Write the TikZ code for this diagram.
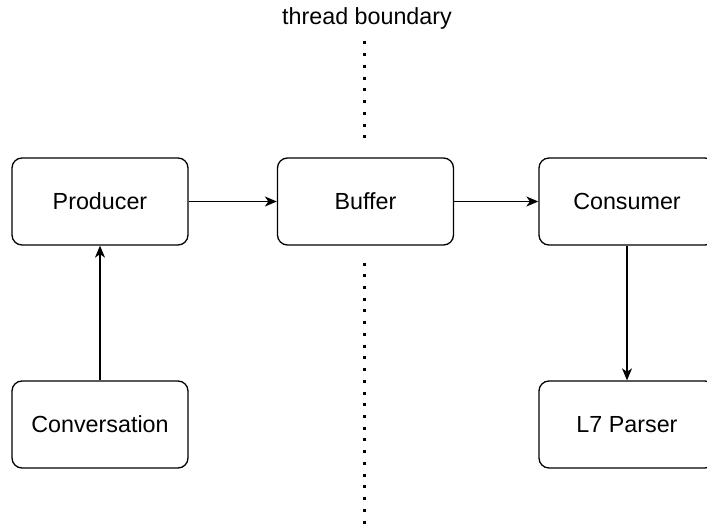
\documentclass[tikz,border=0pt]{standalone}
\usepackage{fontspec}
\setmainfont{Liberation Sans}
\usetikzlibrary{arrows.meta}
\begin{document}
\begin{tikzpicture}[x=1pt,y=-1pt,
  box/.style={draw, line width=1.3pt, rounded corners=10pt, minimum width=176pt, minimum height=87pt, inner sep=0pt, font=\fontsize{23.3}{28}\selectfont},
  conn/.style={draw, line width=1.3pt, -{Stealth[length=12pt,width=10pt,inset=3.5pt]}},
  dotline/.style={line width=3pt, dash pattern=on 3pt off 8.73pt}]
\useasboundingbox (0,0) rectangle (707,524);
\node[box] (prod) at (100,201.5) {Producer};
\node[box] (buf) at (365.5,201.5) {Buffer};
\node[box] (cons) at (627,201.5) {Consumer};
\node[box] (conv) at (100,424.5) {Conversation};
\node[box] (l7) at (627,424.5) {L7 Parser};
\node[font=\fontsize{23.3}{28}\selectfont] (tb) at (367,18) {thread boundary};
\coordinate (d1) at (364,41.5);
\coordinate (d2) at (364,140);
\coordinate (d3) at (364,262.5);
\coordinate (d4) at (364,530);
\draw[dotline] (d1) -- (d2);
\draw[dotline] (d3) -- (d4);
\draw[conn] (prod) -- (buf);
\draw[conn] (buf) -- (cons);
\draw[conn] (cons) -- (l7);
\draw[conn] (conv) -- (prod);
\end{tikzpicture}
\end{document}
